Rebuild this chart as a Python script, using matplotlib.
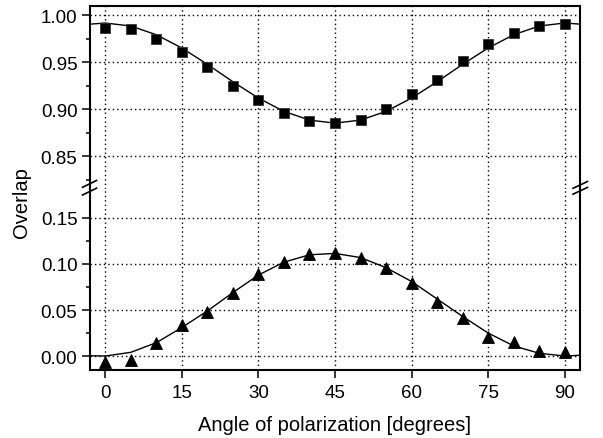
import matplotlib
matplotlib.use("Agg")
import matplotlib.pyplot as plt
from matplotlib.lines import Line2D
from matplotlib.ticker import FixedLocator

plt.rcParams['font.family'] = ['Liberation Sans', 'DejaVu Sans']

# Measured data (markers)
angles = [0, 5, 10, 15, 20, 25, 30, 35, 40, 45, 50, 55, 60, 65, 70, 75, 80, 85, 90]
overlap_parallel = [0.986, 0.985, 0.9745, 0.961, 0.9447, 0.9248, 0.910, 0.8957, 0.8872,
                    0.8851, 0.8886, 0.900, 0.9163, 0.9312, 0.951, 0.9688, 0.9809, 0.9886, 0.9907]
overlap_cross = [-0.007, -0.0047, 0.0141, 0.0337, 0.048, 0.0685, 0.0895, 0.1018, 0.111,
                 0.112, 0.1068, 0.096, 0.0793, 0.059, 0.0416, 0.0207, 0.0155, 0.0054, 0.004]

# Fitted curves
curve_angles = [-3, 0, 5, 10, 15, 20, 25, 30, 35, 40, 45, 50, 55, 60, 65, 70, 75, 80, 85, 90, 93]
curve_parallel = [0.9903, 0.9915, 0.9883, 0.979, 0.9649, 0.9475, 0.929, 0.9116, 0.8975, 0.8882,
                  0.885, 0.8882, 0.8975, 0.9116, 0.929, 0.9475, 0.9649, 0.979, 0.9883, 0.9915, 0.9903]
curve_cross = [0.0003, 0.0, 0.004, 0.0145, 0.031, 0.049, 0.069, 0.088, 0.102, 0.110,
               0.1115, 0.107, 0.096, 0.081, 0.062, 0.043, 0.025, 0.011, 0.003, 0.0, 0.0008]

xticks = [0, 15, 30, 45, 60, 75, 90]
top_yticks = [0.85, 0.90, 0.95, 1.00]
bot_yticks = [0.00, 0.05, 0.10, 0.15]

W, H = 603, 439
fig = plt.figure(figsize=(W / 100, H / 100), dpi=100)

left_px, right_px, top_px, break_px, bottom_px = 90, 580, 7, 190, 371
fx = lambda px: px / W
fy = lambda py: 1 - py / H

ax_top = fig.add_axes([fx(left_px), fy(break_px), fx(right_px - left_px), fy(top_px) - fy(break_px)])
ax_bot = fig.add_axes([fx(left_px), fy(bottom_px), fx(right_px - left_px), fy(break_px) - fy(bottom_px)])

ax_top.set_ylim(0.8149, 1.0096)
ax_bot.set_ylim(-0.0152, 0.1815)
for ax in (ax_top, ax_bot):
    ax.set_xlim(-3, 93)
    ax.xaxis.set_major_locator(FixedLocator(xticks))
    ax.grid(True, which='major', color='black', linestyle=(0, (1, 2.2)), linewidth=1.0)
    for s in ax.spines.values():
        s.set_linewidth(1.5)
    ax.tick_params(axis='y', which='major', direction='out', length=6, width=1.1,
                   labelsize=13.5, pad=3, right=False)
    ax.tick_params(axis='y', which='minor', direction='out', length=3, width=1.1, right=False)
    ax.set_axisbelow(True)

ax_top.yaxis.set_major_locator(FixedLocator(top_yticks))
ax_top.yaxis.set_minor_locator(FixedLocator([0.825, 0.875, 0.925, 0.975]))
ax_top.set_yticklabels([f"{v:.2f}" for v in top_yticks])
ax_bot.yaxis.set_major_locator(FixedLocator(bot_yticks))
ax_bot.yaxis.set_minor_locator(FixedLocator([0.025, 0.075, 0.125]))
ax_bot.set_yticklabels([f"{v:.2f}" for v in bot_yticks])

ax_top.spines['bottom'].set_visible(False)
ax_bot.spines['top'].set_visible(False)
ax_top.tick_params(axis='x', which='both', bottom=False, top=False, labelbottom=False)
ax_bot.tick_params(axis='x', which='major', direction='out', length=6, width=1.1,
                   labelsize=13.5, pad=4, top=False)
ax_bot.set_xticklabels([str(v) for v in xticks])

ax_top.plot(curve_angles, curve_parallel, color='black', linewidth=1.0, zorder=3)
ax_top.plot(angles, overlap_parallel, linestyle='none', marker='s', markersize=7.5,
            color='black', markeredgecolor='#333333', markeredgewidth=0.6, zorder=4)
ax_bot.plot(curve_angles, curve_cross, color='black', linewidth=1.0, zorder=3)
ax_bot.plot(angles, overlap_cross, linestyle='none', marker='^', markersize=9,
            color='black', markeredgecolor='black', markeredgewidth=0.6, zorder=4)

# Axis break marks
for (x0, y0, x1, y1) in [(82.5, 188.3, 96.5, 181.5), (82.5, 196.0, 96.5, 189.2),
                         (573, 189.3, 587.5, 182.5), (573, 195.2, 587.5, 188.4)]:
    fig.add_artist(Line2D([fx(x0), fx(x1)], [fy(y0), fy(y1)], color='black', linewidth=1.2))

fig.text(fx(22), fy(203), "Overlap", rotation=90, ha='center', va='center', fontsize=14.5)
fig.text(fx(335), fy(426), "Angle of polarization [degrees]", ha='center', va='center', fontsize=14.5)

fig.savefig("out.png", dpi=100)
